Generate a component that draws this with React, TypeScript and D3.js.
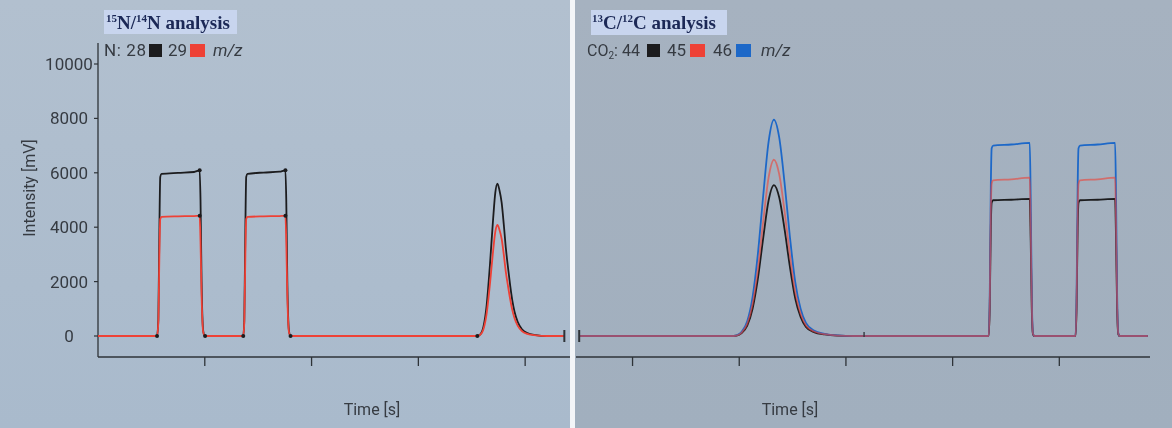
import * as d3 from 'd3'

type Pt = [number, number]

// time [s] vs intensity [mV]
// N2 panel, m/z 28 (black) and 29 (red)
const n28: Pt[] = [
  [0, 0], [55.3, 0], [56.5, 600], [57.5, 4000], [58.3, 5850], [59.5, 5960], [75, 6000], [90, 6030], [95.2, 6090],
  [96, 5000], [97, 2000], [98.5, 200], [100, 0],
  [136, 0], [137, 600], [138, 4000], [138.8, 5850], [140, 5960], [155, 6010], [170, 6040], [175.5, 6090],
  [176.3, 5000], [177.3, 2000], [178.8, 200], [180.3, 0],
  [355, 0], [358, 60], [361, 350], [364, 1150], [367, 2600], [370, 4300], [372, 5250], [374, 5600],
  [376, 5350], [378, 4900], [380, 4100], [382, 3200], [384, 2500], [386, 1850], [388, 1300], [390, 900],
  [393, 520], [397, 250], [402, 110], [410, 35], [420, 0], [436.7, 0],
]
const n29: Pt[] = [
  [0, 0], [55.3, 0], [56.5, 500], [57.5, 3000], [58.3, 4300], [59.5, 4380], [75, 4400], [90, 4410], [95.2, 4420],
  [96, 3500], [97, 1500], [98.5, 150], [100, 0],
  [136, 0], [137, 500], [138, 3000], [138.8, 4300], [140, 4380], [155, 4400], [170, 4410], [175.5, 4420],
  [176.3, 3500], [177.3, 1500], [178.8, 150], [180.3, 0],
  [355, 0], [358, 45], [361, 255], [364, 840], [367, 1900], [370, 3130], [372, 3820], [374, 4080],
  [376, 3900], [378, 3570], [380, 2990], [382, 2330], [384, 1820], [386, 1350], [388, 950], [390, 660],
  [393, 380], [397, 180], [402, 80], [410, 25], [420, 0], [436.7, 0],
]
const nMarkers: Pt[] = [
  [55.3, 0], [100.3, 0], [136, 0], [180.3, 0], [355.2, 0],
  [95.2, 6090], [95.2, 4420], [175.5, 6090], [175.5, 4420],
]
const nEnd = 436.7

// CO2 panel, m/z 44 (black), 45 (red), 46 (blue)
const c44: Pt[] = [
  [0, 0], [145, 0], [150, 49], [152.5, 117], [157.5, 380], [162.5, 1000], [167.5, 2115], [172.5, 3610], [177.5, 4980],
  [182.5, 5550], [187.5, 5090], [192.5, 3920], [197.5, 2540], [202.5, 1380], [207.5, 700], [212.5, 335],
  [220, 140], [230, 56], [242, 14], [257, 0],
  [383.8, 0], [384.8, 1050], [385.8, 4000], [386.6, 4900], [388, 4990], [405, 5010], [422.3, 5040],
  [423.2, 3500], [424.2, 1000], [425.3, 70], [426.5, 0],
  [465.2, 0], [466.2, 1050], [467.2, 4000], [468, 4900], [469.4, 4990], [486, 5010], [502.3, 5040],
  [503.2, 3500], [504.2, 1000], [505.3, 70], [506.5, 0], [533, 0],
]
const c45: Pt[] = [
  [0, 0], [145, 0], [150, 57], [152.5, 136], [157.5, 444], [162.5, 1166], [167.5, 2470], [172.5, 4220], [177.5, 5820],
  [182.5, 6480], [187.5, 5940], [192.5, 4580], [197.5, 2970], [202.5, 1610], [207.5, 815], [212.5, 390],
  [220, 165], [230, 65], [242, 16], [257, 0],
  [383.8, 0], [384.8, 1200], [385.8, 4600], [386.6, 5600], [388, 5720], [405, 5760], [422.3, 5820],
  [423.2, 4000], [424.2, 1200], [425.3, 80], [426.5, 0],
  [465.2, 0], [466.2, 1200], [467.2, 4600], [468, 5600], [469.4, 5720], [486, 5760], [502.3, 5820],
  [503.2, 4000], [504.2, 1200], [505.3, 80], [506.5, 0], [533, 0],
]
const c46: Pt[] = [
  [0, 0], [145, 0], [150, 70], [152.5, 167], [157.5, 545], [162.5, 1431], [167.5, 3030], [172.5, 5176], [177.5, 7140],
  [182.5, 7950], [187.5, 7290], [192.5, 5620], [197.5, 3640], [202.5, 1980], [207.5, 1000], [212.5, 480],
  [220, 200], [230, 80], [242, 20], [257, 0],
  [383.8, 0], [384.8, 1500], [385.8, 5500], [386.6, 6900], [388, 7000], [405, 7040], [422.3, 7100],
  [423.2, 5000], [424.2, 1500], [425.3, 100], [426.5, 0],
  [465.2, 0], [466.2, 1500], [467.2, 5500], [468, 6900], [469.4, 7000], [486, 7040], [502.3, 7100],
  [503.2, 5000], [504.2, 1500], [505.3, 100], [506.5, 0], [533, 0],
]
const cStart = 0
const cMarkers = [267]

const yTicks = [0, 2000, 4000, 6000, 8000, 10000]
const nTimeTicks = [100, 200, 300, 400]
const cTimeTicks = [50, 150, 250, 350, 450]

const BLACK = '#1c1c1e'
const RED = '#ee4136'
const BLUE = '#1d68c8'
const AXIS = '#2e3338'
const TXT = '#363b42'
const SANS = 'Roboto, "Liberation Sans", sans-serif'
const SERIF = '"Liberation Serif", "Times New Roman", serif'

export default function App() {
  const y = d3.scaleLinear().domain([0, 10000]).range([336, 64])
  const xN = d3.scaleLinear().domain([0, 442]).range([98, 570])
  const xC = d3.scaleLinear().domain([-3, 535]).range([576, 1150])
  const axisY = 357

  const lineN = d3.line<Pt>().x(d => xN(d[0])).y(d => y(d[1])).curve(d3.curveMonotoneX)
  const lineC = d3.line<Pt>().x(d => xC(d[0])).y(d => y(d[1])).curve(d3.curveMonotoneX)

  return (
    <svg width={1172} height={428} style={{ position: 'fixed', left: 0, top: 0 }}>
      <defs>
        <linearGradient id="bgL" x1="0" y1="0" x2="0" y2="1">
          <stop offset="0" stopColor="#b2c0cf" />
          <stop offset="1" stopColor="#a9bacc" />
        </linearGradient>
        <linearGradient id="bgR" x1="0" y1="0" x2="0" y2="1">
          <stop offset="0" stopColor="#a6b2c0" />
          <stop offset="1" stopColor="#a1afbe" />
        </linearGradient>
      </defs>
      <rect x={0} y={0} width={571} height={428} fill="url(#bgL)" />
      <rect x={575} y={0} width={597} height={428} fill="url(#bgR)" />
      <rect x={570} y={0} width={5} height={428} fill="#f3f5f8" />

      {/* titles */}
      <rect x={104} y={10} width={133} height={24} fill="#c8d5ee" />
      <text x={106} y={29} fontFamily={SERIF} fontWeight="bold" fontSize={19} fill="#1b2856">
        <tspan fontSize={11} dy={-7}>15</tspan>
        <tspan dy={7}>N/</tspan>
        <tspan fontSize={11} dy={-7}>14</tspan>
        <tspan dy={7}>N analysis</tspan>
      </text>
      <rect x={591} y={10} width={136} height={25} fill="#c8d5ee" />
      <text x={592} y={29} fontFamily={SERIF} fontWeight="bold" fontSize={19} fill="#1b2856">
        <tspan fontSize={11} dy={-7}>13</tspan>
        <tspan dy={7}>C/</tspan>
        <tspan fontSize={11} dy={-7}>12</tspan>
        <tspan dy={7}>C analysis</tspan>
      </text>

      {/* legends */}
      <g fontFamily={SANS} fontSize={17} fill={TXT}>
        <text x={104} y={56} textLength={42}>N: 28</text>
        <rect x={149} y={44} width={13} height={13} fill={BLACK} />
        <text x={168} y={56}>29</text>
        <rect x={190} y={44} width={15} height={13} fill={RED} />
        <text x={213} y={56} fontStyle="italic">m/z</text>

        <text x={587} y={56} fontSize={16}>CO<tspan fontSize={10} dy={3}>2</tspan><tspan dy={-3}>: 44</tspan></text>
        <rect x={647} y={44} width={13} height={13} fill={BLACK} />
        <text x={667} y={56}>45</text>
        <rect x={690} y={44} width={15} height={13} fill={RED} />
        <text x={713} y={56}>46</text>
        <rect x={736} y={44} width={15} height={13} fill={BLUE} />
        <text x={761} y={56} fontStyle="italic">m/z</text>
      </g>

      {/* left y axis */}
      <line x1={98} x2={98} y1={43} y2={axisY} stroke={AXIS} strokeWidth={1.3} />
      {yTicks.map(v => (
        <g key={v}>
          <line x1={94} x2={98} y1={y(v)} y2={y(v)} stroke={AXIS} strokeWidth={1.2} />
          <text x={69} y={y(v) + 6} textAnchor="middle" fontFamily={SANS} fontSize={17} fill={TXT}>{v}</text>
        </g>
      ))}
      <text transform="translate(35,188) rotate(-90)" textAnchor="middle" fontFamily={SANS} fontSize={16} fill={TXT}>Intensity [mV]</text>

      {/* bottom axes */}
      <line x1={98} x2={570} y1={axisY} y2={axisY} stroke={AXIS} strokeWidth={1.3} />
      {nTimeTicks.map(t => (
        <line key={t} x1={xN(t)} x2={xN(t)} y1={axisY} y2={axisY + 9} stroke={AXIS} strokeWidth={1.3} />
      ))}
      <line x1={576} x2={1150} y1={axisY} y2={axisY} stroke={AXIS} strokeWidth={1.3} />
      {cTimeTicks.map(t => (
        <line key={t} x1={xC(t)} x2={xC(t)} y1={axisY} y2={axisY + 9} stroke={AXIS} strokeWidth={1.3} />
      ))}
      <text x={372} y={415} textAnchor="middle" fontFamily={SANS} fontSize={16} fill={TXT}>Time [s]</text>
      <text x={790} y={415} textAnchor="middle" fontFamily={SANS} fontSize={16} fill={TXT}>Time [s]</text>

      {/* N2 traces */}
      <path d={lineN(n28) ?? ''} fill="none" stroke={BLACK} strokeWidth={1.8} />
      <path d={lineN(n29) ?? ''} fill="none" stroke={RED} strokeWidth={1.8} />
      {nMarkers.map((d, i) => (
        <circle key={i} cx={xN(d[0])} cy={y(d[1])} r={2} fill={BLACK} />
      ))}
      <line x1={xN(nEnd)} x2={xN(nEnd)} y1={y(0) - 6} y2={y(0) + 6} stroke={AXIS} strokeWidth={2} />

      {/* CO2 traces */}
      <path d={lineC(c44) ?? ''} fill="none" stroke={BLACK} strokeWidth={1.8} />
      <path d={lineC(c46) ?? ''} fill="none" stroke={BLUE} strokeWidth={1.8} />
      <path d={lineC(c45) ?? ''} fill="none" stroke={RED} strokeWidth={1.8} strokeOpacity={0.6} />
      <line x1={xC(cStart)} x2={xC(cStart)} y1={y(0) - 6} y2={y(0) + 6} stroke={AXIS} strokeWidth={2} />
      {cMarkers.map(t => (
        <line key={t} x1={xC(t)} x2={xC(t)} y1={y(0) - 4} y2={y(0) + 1} stroke={AXIS} strokeWidth={1.3} />
      ))}
    </svg>
  )
}
